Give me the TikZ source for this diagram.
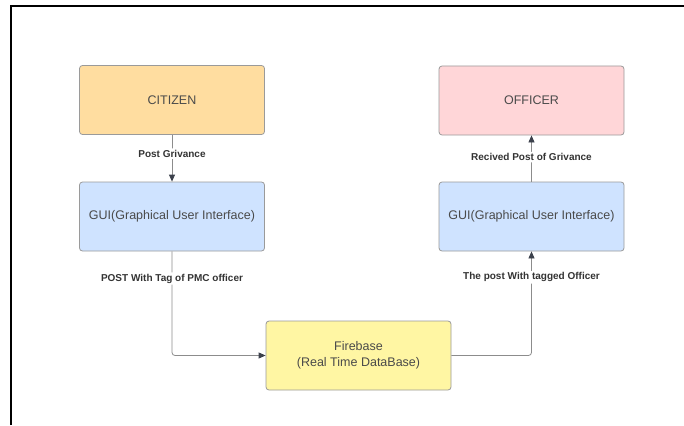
\documentclass[tikz,border=0pt]{standalone}
\usepackage{fontspec}
\setmainfont{Liberation Sans}
\usetikzlibrary{arrows.meta}

\definecolor{citizenfill}{HTML}{FFDDA0}
\definecolor{guifill}{HTML}{CFE3FF}
\definecolor{officerfill}{HTML}{FFD6D8}
\definecolor{basefill}{HTML}{FFF6A3}
\definecolor{boxline}{HTML}{9A9A9A}
\definecolor{boxtext}{HTML}{4A4A4A}
\definecolor{lineclr}{HTML}{8C8C8C}
\definecolor{tipclr}{HTML}{3C414C}
\definecolor{lbltext}{HTML}{333333}

\tikzset{
	box/.style={draw=boxline, line width=0.8pt, rounded corners=3pt,
		minimum width=185pt, minimum height=69pt, align=center,
		text=boxtext, font=\fontsize{12.5}{16.5}\selectfont},
	conn/.style={draw=lineclr, line width=0.8pt, rounded corners=3pt,
		-{Triangle[length=7pt,width=6pt,color=tipclr]}},
	lbl/.style={fill=white, inner sep=1.5pt, text=lbltext,
		font=\bfseries\fontsize{10}{12}\selectfont},
}

\begin{document}
\begin{tikzpicture}[x=1pt,y=-1pt]
	\useasboundingbox (0,0) rectangle (684,425);
	\begin{scope}
		% frame
		\draw[line width=2pt] (11,425) -- (11,6) -- (684,6);

		% users
		\node[box, fill=citizenfill] (citizen) at (172,100) {CITIZEN};
		\node[box, fill=officerfill] (officer) at (531.5,100.5) {OFFICER};

		% interfaces
		\node[box, fill=guifill] (guiL) at (172,216.5) {GUI(Graphical User Interface)};
		\node[box, fill=guifill] (guiR) at (531.5,216.5) {GUI(Graphical User Interface)};

		% database
		\node[box, fill=basefill] (firebase) at (358.5,355.5) {Firebase\\(Real Time DataBase)};

		% flows
		\draw[conn] (citizen) -- node[lbl, pos=.4] {Post Grivance} (guiL);
		\draw[conn] (guiL) |- node[lbl, pos=.13] {POST With Tag of PMC officer} (firebase);
		\draw[conn] (firebase) -| node[lbl, pos=.875] {The post With tagged Officer} (guiR);
		\draw[conn] (guiR) -- node[lbl, pos=.53] {Recived Post of Grivance} (officer);
	\end{scope}
\end{tikzpicture}
\end{document}
